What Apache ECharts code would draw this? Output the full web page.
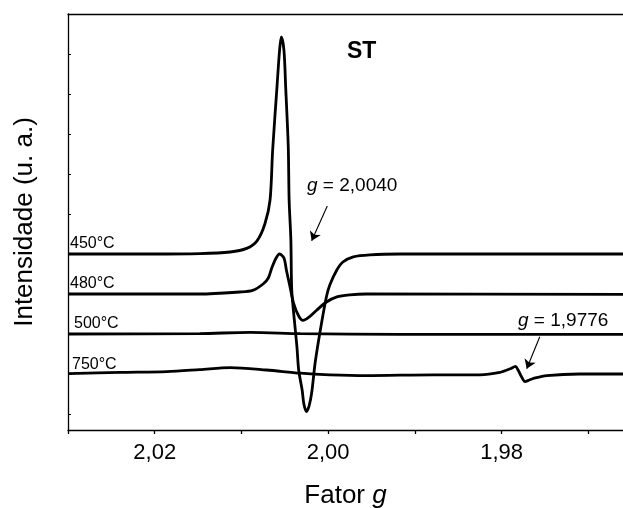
<!DOCTYPE html>
<html>
<head>
<meta charset="utf-8">
<script src="https://cdn.jsdelivr.net/npm/echarts@6/dist/echarts.min.js"></script>
<style>
  html, body { margin: 0; padding: 0; background: #fff; }
  #chart { width: 623px; height: 508px; }
</style>
</head>
<body>
<div id="chart"></div>
<script>
// EPR spectra of sample ST, stacked by calcination temperature (g factor axis reversed)
const FONT = '"Liberation Sans", Arial, sans-serif';

const gTicks = [2.03, 2.02, 2.01, 2.00, 1.99, 1.98, 1.97];
const gLabels = [2.02, 2.00, 1.98];
const intensityTicks = [0, 1, 2, 3, 4, 5, 6, 7, 8, 9, 10];

// 450 °C
const g450 = [2.03, 2.0205, 2.0148, 2.0113, 2.0094, 2.0082, 2.0073, 2.0067, 2.0064, 2.0059,
  2.0056, 2.0054, 2.0051, 2.0049, 2.0046, 2.0045, 2.0043, 2.0042, 2.0039, 2.0036,
  2.0034, 2.0030, 2.0028, 2.0025, 2.0022, 2.0019, 2.0015, 2.0009, 2.0002, 1.9998,
  1.9990, 1.9983, 1.9971, 1.9952, 1.9917, 1.966];
const i450 = [4.0, 4.0, 4.01, 4.05, 4.14, 4.33, 4.75, 5.35, 6.6, 8.18,
  9.1, 9.43, 9.1, 8.18, 6.68, 5.35, 4.35, 3.1, 2.35, 1.68,
  1.1, 0.6, 0.25, 0.06, 0.2, 0.53, 1.28, 2.1, 2.93, 3.23,
  3.6, 3.8, 3.93, 3.98, 4.0, 4.0];

// 480 °C
const g480 = [2.03, 2.0205, 2.0148, 2.0102, 2.0087, 2.0075, 2.0069, 2.0065, 2.0060, 2.0056,
  2.0051, 2.0048, 2.0044, 2.0040, 2.0034, 2.0029, 2.0021, 2.0013, 2.0002, 1.9990,
  1.9975, 1.9956, 1.966];
const i480 = [3.0, 3.0, 3.0, 3.05, 3.09, 3.25, 3.4, 3.65, 3.9, 4.0,
  3.9, 3.58, 3.18, 2.78, 2.45, 2.34, 2.44, 2.6, 2.8, 2.93,
  2.98, 3.0, 2.99];

// 500 °C
const g500 = [2.03, 2.0148, 2.0090, 2.0032, 1.9917, 1.966];
const i500 = [2.0, 2.01, 2.04, 2.01, 1.99, 1.99];

// 750 °C
const g750 = [2.03, 2.0240, 2.0186, 2.0148, 2.0113, 2.0071, 2.0032, 1.9998, 1.9956, 1.9879,
  1.9825, 1.9802, 1.9790, 1.9784, 1.9781, 1.97775, 1.9773, 1.9768, 1.9763, 1.9748,
  1.9710, 1.966];
const i750 = [1.01, 1.04, 1.06, 1.11, 1.16, 1.1, 1.02, 0.98, 0.96, 0.98,
  0.98, 1.04, 1.13, 1.19, 1.1, 0.95, 0.81, 0.85, 0.89, 0.96,
  1.0, 1.0];

// annotation arrows: [g, intensity] start -> end
const arrow2004 = [[2.0001, 5.2], [2.0019, 4.33]];
const arrow1977 = [[1.9756, 1.93], [1.9771, 1.13]];

const zip = (xs, ys) => xs.map((x, k) => [x, ys[k]]);
const fmtG = v => v.toFixed(2).replace('.', ',');

function spectrum(name, xs, ys, extra) {
  return Object.assign({
    name: name,
    type: 'line',
    data: zip(xs, ys),
    smooth: 0.3,
    symbol: 'none',
    silent: true,
    itemStyle: { color: '#000' },
    lineStyle: { color: '#000', width: 2.8 },
    z: 3
  }, extra || {});
}

function arrowLine(pts) {
  return {
    silent: true,
    symbol: ['none', 'arrow'],
    symbolSize: 9,
    label: { show: false },
    itemStyle: { color: '#000' },
    lineStyle: { color: '#000', width: 1.1, type: 'solid' },
    emphasis: { disabled: true },
    data: [[{ coord: pts[0] }, { coord: pts[1] }]]
  };
}

const chart = echarts.init(document.getElementById('chart'), null, { renderer: 'canvas' });

const labelFont = (size, extra) => Object.assign({ fontFamily: FONT, fontSize: size, color: '#000' }, extra || {});
const gRich = size => ({
  i: { fontFamily: FONT, fontSize: size, fontStyle: 'italic', fill: '#000' },
  n: { fontFamily: FONT, fontSize: size, fill: '#000' }
});

chart.setOption({
  animation: false,
  backgroundColor: '#fff',
  grid: { left: 68, right: 0, top: 14, bottom: 78, containLabel: false, outerBoundsMode: 'none' },
  xAxis: [{
    type: 'value',
    inverse: true,
    min: 1.966,
    max: 2.03,
    position: 'bottom',
    name: '{a|Fator }{b|g}',
    nameLocation: 'middle',
    nameGap: 53,
    nameTextStyle: {
      rich: {
        a: labelFont(26),
        b: labelFont(26, { fontStyle: 'italic' })
      }
    },
    axisLine: { show: true, onZero: false, lineStyle: { color: '#000', width: 1.3 } },
    axisTick: { show: true, inside: false, length: 4, customValues: gTicks, lineStyle: { color: '#000', width: 1.3 } },
    axisLabel: { show: true, customValues: gLabels, formatter: fmtG, margin: 12, fontFamily: FONT, fontSize: 22, color: '#000' },
    splitLine: { show: false }
  }, {
    type: 'value',
    inverse: true,
    min: 1.966,
    max: 2.03,
    position: 'top',
    axisLine: { show: true, onZero: false, lineStyle: { color: '#000', width: 1.3 } },
    axisTick: { show: false },
    axisLabel: { show: false },
    splitLine: { show: false }
  }],
  yAxis: {
    type: 'value',
    min: -0.4,
    max: 10,
    name: 'Intensidade (u. a.)',
    nameLocation: 'middle',
    nameGap: 30,
    nameTextStyle: labelFont(26),
    axisLine: { show: true, onZero: false, lineStyle: { color: '#000', width: 1.3 } },
    axisTick: { show: true, inside: true, length: 3, customValues: intensityTicks, lineStyle: { color: '#000', width: 1 } },
    axisLabel: { show: false },
    splitLine: { show: false }
  },
  series: [
    spectrum('450°C', g450, i450, { markLine: arrowLine(arrow2004) }),
    spectrum('480°C', g480, i480),
    spectrum('500°C', g500, i500),
    spectrum('750°C', g750, i750, { markLine: arrowLine(arrow1977) })
  ],
  graphic: [
    { type: 'text', x: 347, y: 52, style: { text: 'ST', fontFamily: FONT, fontSize: 23, fontWeight: 'bold', fill: '#000', verticalAlign: 'middle' } },
    { type: 'text', x: 307, y: 186, style: { text: '{i|g}{n| = 2,0040}', verticalAlign: 'middle', fill: '#000', rich: gRich(19) } },
    { type: 'text', x: 518, y: 321, style: { text: '{i|g}{n| = 1,9776}', verticalAlign: 'middle', fill: '#000', rich: gRich(19) } },
    { type: 'text', x: 70, y: 244, style: { text: '450°C', fontFamily: FONT, fontSize: 16, fill: '#000', verticalAlign: 'middle' } },
    { type: 'text', x: 70, y: 284, style: { text: '480°C', fontFamily: FONT, fontSize: 16, fill: '#000', verticalAlign: 'middle' } },
    { type: 'text', x: 74, y: 324, style: { text: '500°C', fontFamily: FONT, fontSize: 16, fill: '#000', verticalAlign: 'middle' } },
    { type: 'text', x: 72, y: 365, style: { text: '750°C', fontFamily: FONT, fontSize: 16, fill: '#000', verticalAlign: 'middle' } }
  ]
});
</script>
</body>
</html>
